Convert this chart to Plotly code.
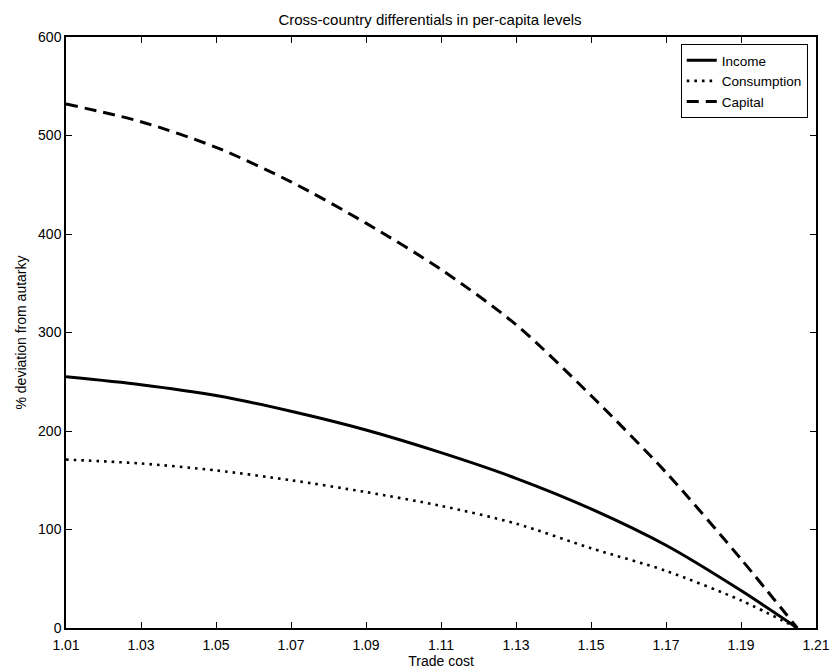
import plotly.graph_objects as go

trade_cost = [1.01, 1.03, 1.05, 1.07, 1.09, 1.11, 1.13, 1.15, 1.17, 1.19, 1.205]
income = [255, 247, 236, 220, 201, 178, 152, 121, 84, 38, 0]
consumption = [171, 167, 160, 150, 138, 124, 106, 81, 58, 28, 0]
capital = [532, 514, 488, 453, 411, 364, 308, 236, 158, 70, 0]

x_ticks = [1.01, 1.03, 1.05, 1.07, 1.09, 1.11, 1.13, 1.15, 1.17, 1.19, 1.21]
y_ticks = [0, 100, 200, 300, 400, 500, 600]

FONT = "Liberation Sans, Arial, sans-serif"

fig = go.Figure()
fig.add_trace(go.Scatter(x=trade_cost, y=income, name="Income", mode="lines",
                         line=dict(color="black", width=3, shape="spline", smoothing=0.8)))
fig.add_trace(go.Scatter(x=trade_cost, y=consumption, name="Consumption", mode="lines",
                         line=dict(color="black", width=2.6, dash="2.6px,5px", shape="spline", smoothing=0.8)))
fig.add_trace(go.Scatter(x=trade_cost, y=capital, name="Capital", mode="lines",
                         line=dict(color="black", width=3, dash="12px,7px", shape="spline", smoothing=0.8)))

axis_common = dict(showline=True, linecolor="black", linewidth=1.5, mirror="ticks",
                   ticks="inside", ticklen=6, tickcolor="black", tickwidth=1,
                   showgrid=False, zeroline=False, automargin=False,
                   tickfont=dict(family=FONT, size=14, color="black"))

fig.update_layout(
    width=835, height=672,
    margin=dict(l=66, r=19, t=37, b=44),
    paper_bgcolor="white", plot_bgcolor="white",
    font=dict(family=FONT, size=14, color="black"),
    title=dict(text="Cross-country differentials in per-capita levels",
               x=0.515, xanchor="center", y=0.971, yanchor="middle",
               font=dict(family=FONT, size=15, color="black")),
    xaxis=dict(range=[1.01, 1.21], tickvals=x_ticks,
               ticktext=[f"{v:.2f}" for v in x_ticks],
               ticklabelstandoff=3,
               title=dict(text="Trade cost", standoff=1,
                          font=dict(family=FONT, size=14)),
               **axis_common),
    yaxis=dict(range=[0, 600], tickvals=y_ticks,
               title=dict(text="% deviation from autarky", standoff=8,
                          font=dict(family=FONT, size=14)),
               **axis_common),
    legend=dict(x=0.989, y=0.988, xanchor="right", yanchor="top",
                bgcolor="white", bordercolor="black", borderwidth=1,
                font=dict(family=FONT, size=13.5), itemwidth=30,
                tracegroupgap=0),
    showlegend=True,
)

fig.write_html("out.html")
